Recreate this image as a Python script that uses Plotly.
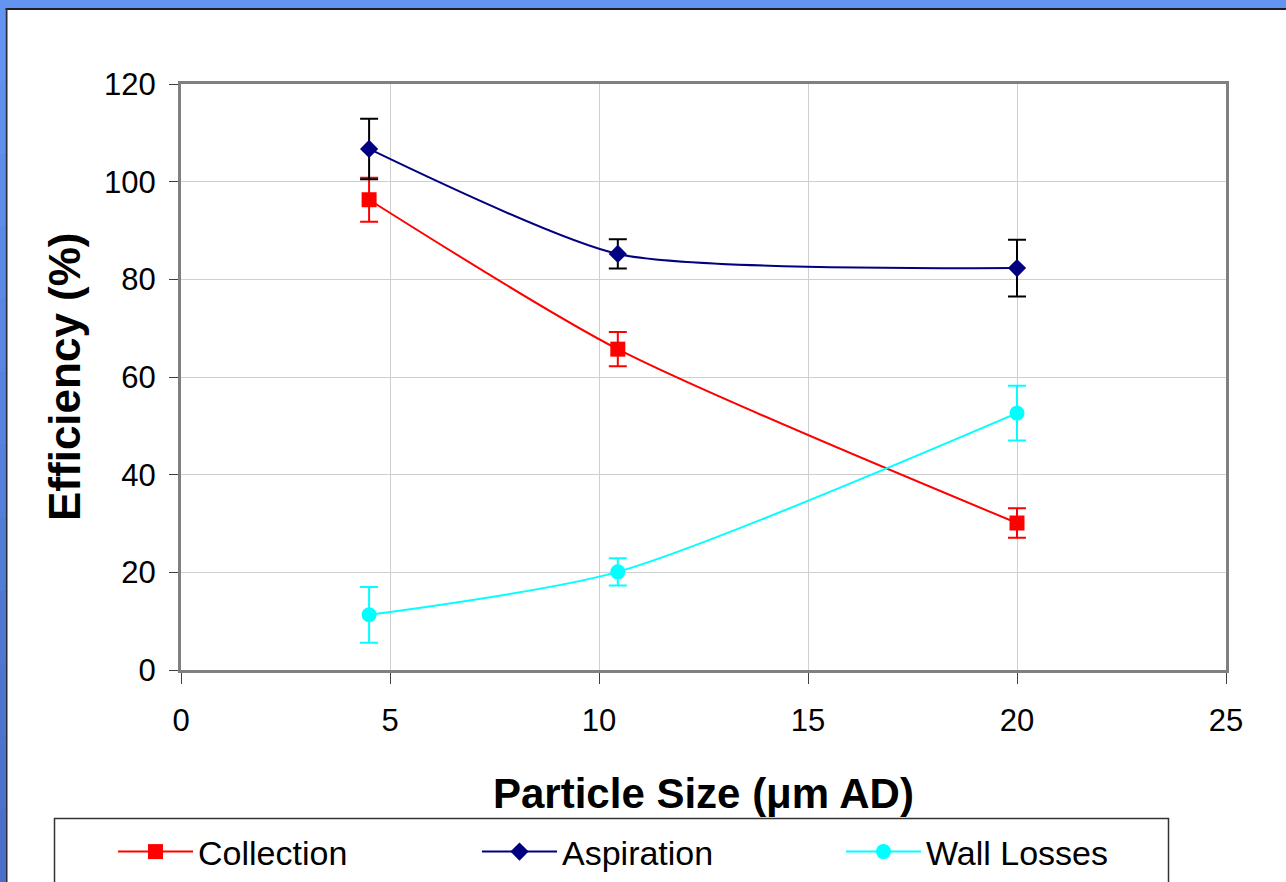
import plotly.graph_objects as go

# ---- data ----
particle_size = [4.5, 10.45, 20.0]
collection = [96.3, 65.7, 30.1]
collection_err = [4.5, 3.5, 3.0]
aspiration = [106.7, 85.2, 82.3]
aspiration_err = [6.2, 3.0, 5.8]
wall_losses = [11.3, 20.1, 52.6]
wall_losses_err = [5.7, 2.8, 5.6]

x_ticks = [0, 5, 10, 15, 20, 25]
y_ticks = [0, 20, 40, 60, 80, 100, 120]

FONT = "Arial, Liberation Sans, sans-serif"
W, H = 1286, 882
L, R, T, B = 181, 1226, 84, 670


def px(x):
    return (x - L) / (R - L)


def py(y):
    return (B - y) / (B - T)


fig = go.Figure()

fig.add_trace(go.Scatter(
    x=particle_size, y=collection, name="Collection", mode="lines+markers",
    line=dict(color="#FF0000", width=2, shape="spline", smoothing=0.7),
    marker=dict(symbol="square", size=15, color="#FF0000"),
    error_y=dict(type="data", array=collection_err, color="#FF0000", thickness=2, width=9),
))
fig.add_trace(go.Scatter(
    x=particle_size, y=aspiration, name="Aspiration", mode="lines+markers",
    line=dict(color="#000080", width=2, shape="spline", smoothing=0.6),
    marker=dict(symbol="diamond", size=14, color="#000080"),
    error_y=dict(type="data", array=aspiration_err, color="#000000", thickness=2, width=9),
))
fig.add_trace(go.Scatter(
    x=particle_size, y=wall_losses, name="Wall Losses", mode="lines+markers",
    line=dict(color="#00FFFF", width=2, shape="spline", smoothing=0.7),
    marker=dict(symbol="circle", size=15, color="#00FFFF"),
    error_y=dict(type="data", array=wall_losses_err, color="#00FFFF", thickness=2, width=9),
))

shapes = []
# blue frame (top and left) with simple vertical gradient on the left strip
shapes.append(dict(type="rect", xref="paper", yref="paper", x0=px(0), x1=px(W), y0=py(0), y1=py(8),
                   fillcolor="#6394F2", line=dict(width=0), layer="above"))
n = 12
top_c = (100, 149, 242)
bot_c = (70, 110, 196)
for i in range(n):
    y0 = 8 + (H - 8) * i / n
    y1 = 8 + (H - 8) * (i + 1) / n + 1
    f = (i + 0.5) / n
    c = tuple(int(round(top_c[k] + (bot_c[k] - top_c[k]) * f)) for k in range(3))
    shapes.append(dict(type="rect", xref="paper", yref="paper", x0=px(0), x1=px(5.5), y0=py(y0), y1=py(y1),
                       fillcolor="rgb(%d,%d,%d)" % c, line=dict(width=0), layer="above"))
shapes.append(dict(type="rect", xref="paper", yref="paper", x0=px(5.5), x1=px(W), y0=py(8), y1=py(10),
                   fillcolor="#1E1E1E", line=dict(width=0), layer="above"))
shapes.append(dict(type="rect", xref="paper", yref="paper", x0=px(5.5), x1=px(7.5), y0=py(8), y1=py(H),
                   fillcolor="#2A2A3A", line=dict(width=0), layer="above"))
# legend box
shapes.append(dict(type="rect", xref="paper", yref="paper", x0=px(54.5), x1=px(1168.5), y0=py(818.5), y1=py(H + 20),
                   fillcolor="white", line=dict(color="#333333", width=1.5), layer="below"))

fig.update_layout(
    width=W, height=H,
    margin=dict(l=L, r=W - R, t=T, b=H - B, pad=0, autoexpand=False),
    paper_bgcolor="white", plot_bgcolor="white",
    font=dict(family=FONT, color="black"),
    shapes=shapes,
    showlegend=True,
    legend=dict(
        orientation="h", x=px(113), y=py(823), xanchor="left", yanchor="top",
        font=dict(family=FONT, size=34, color="black"),
        bgcolor="rgba(0,0,0,0)", borderwidth=0,
        itemwidth=75, entrywidth=274, entrywidthmode="pixels",
        traceorder="normal", itemclick=False,
    ),
    annotations=[
        dict(text="<b>Efficiency (%)</b>", xref="paper", yref="paper", x=px(64), y=0.5,
             xanchor="center", yanchor="middle", textangle=-90, showarrow=False,
             font=dict(family=FONT, size=44, color="black")),
        dict(text="<b>Particle Size (μm AD)</b>", xref="paper", yref="paper", x=0.5, y=py(793),
             xanchor="center", yanchor="middle", showarrow=False,
             font=dict(family=FONT, size=42, color="black")),
    ],
)

fig.update_xaxes(
    range=[0, 25], tickvals=x_ticks, ticktext=[str(v) for v in x_ticks],
    showgrid=True, gridcolor="#CFCFCF", gridwidth=1, zeroline=False,
    showline=True, linecolor="#808080", linewidth=3, mirror=True,
    ticks="outside", ticklen=11, tickwidth=1, tickcolor="#404040",
    tickfont=dict(family=FONT, size=31, color="black"), ticklabelstandoff=10,
)
fig.update_yaxes(
    range=[0, 120], tickvals=y_ticks, ticktext=[str(v) for v in y_ticks],
    showgrid=True, gridcolor="#CFCFCF", gridwidth=1, zeroline=False,
    showline=True, linecolor="#808080", linewidth=3, mirror=True,
    ticks="outside", ticklen=9, tickwidth=1, tickcolor="#404040",
    tickfont=dict(family=FONT, size=31, color="black"), ticklabelstandoff=7,
)

fig.write_html("out.html", config={"displayModeBar": False},
               post_script="document.body.style.margin='0';document.body.style.overflow='hidden';")
